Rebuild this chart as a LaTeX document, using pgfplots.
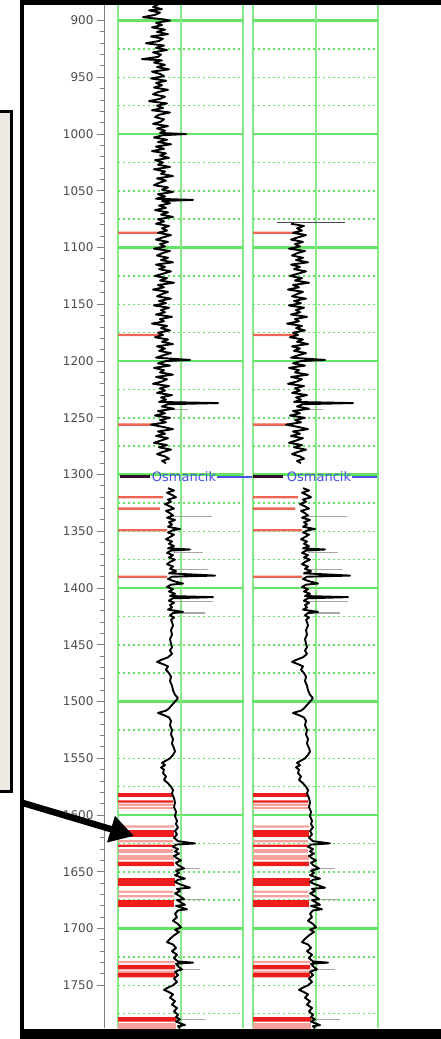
\documentclass[border=0pt]{standalone}
\usepackage{pgfplots}
\pgfplotsset{compat=1.18}
\usepackage{pgfplotstable}
\usepackage{fontspec}
\setmainfont{DejaVu Sans}
\usetikzlibrary{arrows.meta}

\definecolor{gridgreen}{RGB}{100,226,100}
\definecolor{gridgreenlt}{RGB}{135,234,135}
\definecolor{redline}{RGB}{240,100,85}
\definecolor{redband}{RGB}{238,28,28}
\definecolor{pinkband}{RGB}{247,160,156}
\definecolor{mkdark}{RGB}{50,10,40}
\definecolor{mkblue}{RGB}{70,80,230}
\definecolor{boxfill}{RGB}{236,233,226}

\pgfplotstableread{
d x
886 40
888 35
890 44
891 31
893 42
895 37
897 25
899 46
900 52
902 38
904 44
906 34
908 47
910 39
912 50
914 33
916 45
918 41
920 28
922 46
924 38
926 49
928 35
930 43
932 40
934 24
935 44
937 36
939 47
941 39
943 51
945 34
947 42
949 46
951 33
953 48
955 38
957 44
959 36
961 50
963 40
965 35
967 47
969 42
971 31
973 49
975 39
977 45
979 34
981 52
983 41
985 37
987 46
989 43
991 35
993 50
995 39
997 47
999 42
1000 68
1001 45
1003 36
1005 49
1007 40
1009 53
1011 38
1013 46
1015 34
1017 48
1019 42
1021 51
1023 37
1025 45
1027 40
1029 52
1031 36
1033 47
1035 43
1037 55
1039 39
1041 48
1043 41
1045 36
1047 50
1049 44
1051 55
1053 40
1055 47
1057 38
1058 75
1059 44
1061 52
1063 41
1065 48
1067 37
1069 50
1071 43
1073 55
1075 40
1077 46
1079 38
1081 51
1083 44
1085 49
1087 40
1089 53
1091 45
1093 38
1095 50
1097 42
1099 47
1101 36
1103 52
1105 44
1107 39
1109 50
1111 43
1113 55
1115 38
1117 47
1119 41
1121 53
1123 45
1125 37
1127 49
1129 42
1131 56
1133 40
1135 46
1137 35
1139 50
1141 44
1143 39
1145 53
1147 41
1149 48
1151 36
1153 51
1155 43
1157 47
1159 38
1161 54
1163 42
1165 46
1167 34
1169 49
1171 43
1173 52
1175 40
1177 45
1179 37
1181 50
1183 44
1185 55
1187 39
1189 47
1191 41
1193 53
1195 45
1197 38
1199 72
1200 48
1202 40
1204 52
1206 36
1208 46
1210 42
1212 55
1214 38
1216 49
1218 44
1220 35
1222 51
1224 42
1226 47
1228 39
1230 54
1232 43
1234 48
1236 41
1237 100
1238 50
1240 44
1242 56
1244 40
1246 47
1248 37
1250 52
1252 42
1254 48
1256 33
1258 45
1260 55
1262 40
1264 47
1266 38
1268 50
1270 43
1272 36
1274 49
1276 41
1278 53
1280 45
1282 39
1284 47
1286 51
1288 44
1290 48
1300 nan
1312 50
1314 56
1316 49
1318 54
1320 58
1322 50
1324 53
1326 47
1328 52
1330 56
1332 48
1334 52
1336 55
1338 49
1340 57
1342 51
1344 54
1346 50
1348 62
1349 55
1351 50
1353 56
1355 52
1357 48
1359 54
1361 51
1363 56
1365 50
1366 72
1367 53
1369 49
1371 55
1373 51
1375 57
1377 52
1379 49
1381 55
1383 52
1385 58
1387 51
1389 97
1390 54
1392 50
1394 56
1396 65
1397 53
1399 49
1401 55
1403 51
1405 57
1407 52
1408 95
1409 55
1411 51
1413 56
1415 52
1417 54
1419 50
1421 65
1422 55
1424 52
1426 56
1428 53
1430 54
1433 55
1437 53
1441 54
1445 52
1449 53
1452 54
1455 52
1458 54
1461 50
1463 44
1465 39
1467 45
1469 50
1472 48
1475 51
1478 53
1482 52
1486 54
1490 55
1494 57
1497 60
1500 57
1503 54
1506 51
1508 48
1510 40
1512 46
1514 51
1517 53
1521 52
1525 54
1529 53
1533 55
1537 54
1541 56
1544 57
1547 55
1550 52
1552 48
1554 44
1556 47
1558 43
1560 46
1563 45
1566 48
1569 46
1572 50
1575 53
1578 55
1581 54
1585 56
1589 57
1593 56
1597 58
1601 57
1605 59
1608 58
1611 60
1614 57
1617 59
1620 56
1623 60
1625 77
1626 58
1628 55
1630 60
1632 57
1634 61
1636 56
1638 59
1640 63
1642 58
1644 60
1647 66
1649 58
1651 61
1653 57
1656 67
1657 60
1659 57
1661 62
1664 72
1665 59
1667 62
1669 57
1671 61
1674 66
1675 59
1677 63
1679 67
1680 58
1683 69
1684 60
1687 57
1690 59
1693 55
1696 60
1699 63
1701 57
1703 61
1706 56
1709 52
1712 49
1714 55
1717 58
1720 54
1723 59
1726 56
1729 60
1730 75
1731 58
1734 61
1736 64
1738 57
1741 60
1744 56
1747 59
1750 55
1752 50
1754 46
1756 51
1758 55
1761 52
1764 57
1767 54
1770 59
1773 56
1776 60
1778 58
1780 62
1782 58
1785 67
1786 60
1788 62
}\curve

\pgfplotsset{
  band/.style={xbar, bar shift=0pt, draw=none, forget plot},
  track/.style={
    scale only axis, width=125pt, height=1023pt,
    xmin=0, xmax=125, ymin=886.3, ymax=1787.7, y dir=reverse,
    axis line style={draw=none},
    xtick={0,125},
    ytick={900,1000,...,1700},
    minor ytick={925,950,975,1025,1050,1075,1125,1150,1175,1225,1250,1275,1325,1350,1375,1425,1450,1475,1525,1550,1575,1625,1650,1675,1725,1750,1775},
    xticklabels={}, yticklabels={},
    tick style={draw=none},
    xmajorgrids, ymajorgrids, yminorgrids,
    major x grid style={gridgreenlt, line width=1.6pt},
    major y grid style={gridgreen, line width=2.2pt},
    minor y grid style={gridgreen, line width=1.5pt, dash pattern=on 2pt off 3pt},
    clip=false, unbounded coords=jump,
  }
}

\newcommand{\midline}{%
  \addplot[gridgreenlt, line width=1.6pt, forget plot] coordinates {(63,886.3) (63,1787.7)};
}
\newcommand{\bands}{%
  \addplot[band, fill=redline, bar width=2] coordinates {(46,1087) (42,1177) (39,1256) (45,1320) (42,1330) (49,1349) (49,1390)};
  \addplot[band, fill=pinkband, bar width=2] coordinates {(55,1591) (56,1610) (55,1623) (55,1667.5) (56,1671.5) (57,1729.5) (56,1738)};
  \addplot[band, fill=pinkband, bar width=1.5] coordinates {(55,1593.5)};
  \addplot[band, fill=pinkband, bar width=3.5] coordinates {(55,1632)};
  \addplot[band, fill=pinkband, bar width=4] coordinates {(56,1637.5)};
  \addplot[band, fill=pinkband, bar width=5] coordinates {(58,1786)};
  \addplot[band, fill=redband, bar width=3.5] coordinates {(55,1582)};
  \addplot[band, fill=redband, bar width=2] coordinates {(55,1588) (55,1627)};
  \addplot[band, fill=redband, bar width=6.5] coordinates {(56,1616.5)};
  \addplot[band, fill=redband, bar width=4] coordinates {(56,1643) (57,1734) (57,1741) (58,1780)};
  \addplot[band, fill=redband, bar width=7] coordinates {(57,1659)};
  \addplot[band, fill=redband, bar width=5.5] coordinates {(56,1678)};
}
\newcommand{\spikes}{%
  \addplot[gray!70, line width=1.1pt, forget plot] coordinates {
    (50,1243) (70,1243) (nan,nan)
    (55,1337) (94,1337) (nan,nan)
    (55,1369) (85,1369) (nan,nan)
    (55,1384) (90,1384) (nan,nan)
    (50,1412) (95,1412) (nan,nan)
    (55,1422) (87,1422) (nan,nan)
    (58,1647) (82,1647) (nan,nan)
    (58,1674) (85,1674) (nan,nan)
    (58,1736) (82,1736) (nan,nan)
    (58,1780) (87,1780)};
}

\begin{document}
\begin{tikzpicture}
\useasboundingbox (0,0) rectangle (441pt,-1039pt);

% depth axis
\begin{axis}[at={(104pt,-5pt)}, anchor=north west, scale only axis,
  width=5pt, height=1023pt, xmin=0, xmax=1, ymin=886.3, ymax=1787.7, y dir=reverse,
  axis x line=none, axis y line*=left,
  y axis line style={gray, line width=1pt, -},
  ytick={900,950,...,1750}, minor y tick num=4,
  tick align=outside, major tick length=7pt, minor tick length=4pt,
  every tick/.style={gray, line width=1pt},
  yticklabel style={font=\fontsize{12}{12}\selectfont, text=black!70},
  /pgf/number format/1000 sep={},
  /pgf/number format/assume math mode=true]
\addplot[draw=none] coordinates {(0,900)};
\end{axis}

% track 1
\begin{axis}[track, at={(118pt,-5pt)}, anchor=north west]
\midline
\bands
\spikes
\addplot[black, line width=1.9pt, line join=round] table[x=x, y=d] {\curve};
\addplot[mkdark, line width=3pt] coordinates {(2,1302) (32,1302)};
\addplot[mkblue, line width=1.8pt] coordinates {(99,1302) (135,1302)};
\node[text=mkblue, font=\fontsize{13}{13}\selectfont, inner sep=0pt] at (axis cs:66,1302) {Osmancik};
\end{axis}

% track 2
\begin{axis}[track, at={(253pt,-5pt)}, anchor=north west]
\midline
\bands
\spikes
\addplot[gray!60!black, line width=1.2pt] coordinates {(24,1078) (92,1078)};
\addplot[black, line width=1.9pt, line join=round, restrict y to domain=1078:1800] table[x=x, y=d] {\curve};
\addplot[mkdark, line width=3pt] coordinates {(0,1302) (30,1302)};
\addplot[mkblue, line width=1.8pt] coordinates {(99,1302) (124,1302)};
\node[text=mkblue, font=\fontsize{13}{13}\selectfont, inner sep=0pt] at (axis cs:66,1302) {Osmancik};
\end{axis}

% frame, side box and arrow
\draw[line width=5pt] (20pt,-2.5pt) -- (520pt,-2.5pt);
\draw[line width=4.5pt] (22pt,0pt) -- (22pt,-1045pt);
\fill (20pt,-1029pt) rectangle (520pt,-1050pt);
\filldraw[fill=boxfill, line width=3pt] (-10pt,-111.7pt) rectangle (11.5pt,-791.5pt);
\draw[line width=6.5pt, -{Triangle[length=24pt, width=26pt]}] (23pt,-803pt) -- (134pt,-836pt);
\end{tikzpicture}
\end{document}
